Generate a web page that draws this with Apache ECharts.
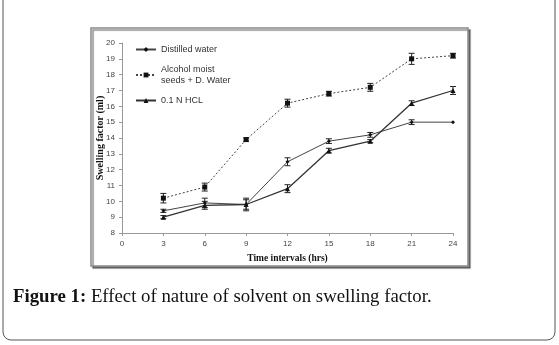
<!DOCTYPE html>
<html>
<head>
<meta charset="utf-8">
<script src="https://cdn.jsdelivr.net/npm/echarts@6/dist/echarts.min.js"></script>
<style>
  html, body { margin: 0; padding: 0; background: #fff; }
  #chart { width: 559px; height: 345px; }
</style>
</head>
<body>
<div id="chart"></div>
<script>
// time points (hrs)
var hours = [3, 6, 9, 12, 15, 18, 21, 24];
// swelling factor (ml)
var distilled = [9.4, 9.9, 9.8, 12.5, 13.8, 14.2, 15.0, 15.0];
var alcohol = [10.2, 10.9, 13.9, 16.2, 16.8, 17.2, 19.0, 19.2];
var hcl = [9.0, 9.75, 9.8, 10.8, 13.2, 13.8, 16.2, 17.0];
// +/- error
var distilledErr = [0.1, 0.3, 0.4, 0.25, 0.15, 0.15, 0.15, 0];
var alcoholErr = [0.3, 0.25, 0.1, 0.25, 0.15, 0.25, 0.35, 0.15];
var hclErr = [0.1, 0.25, 0.3, 0.25, 0.15, 0.1, 0.15, 0.25];

var xTicks = [0, 3, 6, 9, 12, 15, 18, 21, 24];
var yTicks = [8, 9, 10, 11, 12, 13, 14, 15, 16, 17, 18, 19, 20];

function pairs(vals) {
  return hours.map(function (h, i) { return [h, vals[i]]; });
}
function errData(vals, errs) {
  return hours.map(function (h, i) { return [h, vals[i] - errs[i], vals[i] + errs[i]]; });
}
function errSeries(vals, errs) {
  return {
    type: 'custom',
    silent: true,
    z: 1,
    data: errData(vals, errs),
    renderItem: function (params, api) {
      var lo = api.coord([api.value(0), api.value(1)]);
      var hi = api.coord([api.value(0), api.value(2)]);
      var st = { stroke: '#222', lineWidth: 1 };
      if (hi[1] === lo[1]) return null;
      return {
        type: 'group',
        children: [
          { type: 'line', shape: { x1: lo[0], y1: lo[1], x2: hi[0], y2: hi[1] }, style: st },
          { type: 'line', shape: { x1: lo[0] - 3, y1: lo[1], x2: lo[0] + 3, y2: lo[1] }, style: st },
          { type: 'line', shape: { x1: hi[0] - 3, y1: hi[1], x2: hi[0] + 3, y2: hi[1] }, style: st }
        ]
      };
    }
  };
}

var chart = echarts.init(document.getElementById('chart'));
chart.setOption({
  animation: false,
  textStyle: { fontFamily: 'Liberation Sans' },
  grid: { left: 122, right: 106, top: 43, bottom: 112, containLabel: false },
  graphic: [
    { type: 'rect', z: -10, shape: { x: 3, y: -12, width: 552, height: 352, r: 8 },
      style: { fill: '#fff', stroke: '#555', lineWidth: 1 } },
    { type: 'rect', z: -9, shape: { x: 91, y: 28, width: 377, height: 238 },
      style: { fill: '#fff', stroke: '#8a8a8a', lineWidth: 1.5,
        shadowColor: 'rgba(0,0,0,0.45)', shadowOffsetX: 2, shadowOffsetY: 2, shadowBlur: 1 } },
    { type: 'text', left: 13, top: 288,
      style: { text: '{b|Figure 1:} Effect of nature of solvent on swelling factor.',
        font: '18.8px "Liberation Serif"', fill: '#111',
        rich: { b: { fontWeight: 'bold', fontSize: 18.8, fontFamily: 'Liberation Serif', fill: '#111' } } } }
  ],
  legend: {
    orient: 'vertical',
    left: 130,
    top: 39,
    itemWidth: 20,
    itemHeight: 6,
    itemGap: 9,
    textStyle: { fontSize: 9, color: '#333', fontFamily: 'Liberation Sans', lineHeight: 11 },
    data: ['Distilled water', 'Alcohol moist\nseeds + D. Water', '0.1 N HCL']
  },
  xAxis: {
    type: 'value',
    min: 0, max: 24, interval: 3,
    name: 'Time intervals (hrs)',
    nameLocation: 'middle',
    nameGap: 21,
    nameMoveOverlap: false,
    nameTextStyle: { fontFamily: 'Liberation Serif', fontWeight: 'bold', fontSize: 9.5, color: '#111' },
    axisLine: { lineStyle: { color: '#999' } },
    axisTick: { lineStyle: { color: '#999' }, length: 3 },
    axisLabel: { fontSize: 8, color: '#444', margin: 7 },
    splitLine: { show: false }
  },
  yAxis: {
    type: 'value',
    min: 8, max: 20, interval: 1,
    name: 'Swelling factor (ml)',
    nameLocation: 'middle',
    nameGap: 17,
    nameMoveOverlap: false,
    nameTextStyle: { fontFamily: 'Liberation Serif', fontWeight: 'bold', fontSize: 10, color: '#111' },
    axisLine: { show: true, lineStyle: { color: '#999' } },
    axisTick: { show: true, lineStyle: { color: '#999' }, length: 3 },
    axisLabel: { fontSize: 8, color: '#444', margin: 7 },
    splitLine: { show: false }
  },
  series: [
    {
      name: 'Distilled water', type: 'line', data: pairs(distilled),
      symbol: 'diamond', symbolSize: 4, z: 3,
      lineStyle: { color: '#444', width: 1 }, itemStyle: { color: '#111' }
    },
    {
      name: 'Alcohol moist\nseeds + D. Water', type: 'line', data: pairs(alcohol),
      symbol: 'rect', symbolSize: 5, z: 3,
      lineStyle: { color: '#444', width: 1, type: [2, 2] }, itemStyle: { color: '#111' }
    },
    {
      name: '0.1 N HCL', type: 'line', data: pairs(hcl),
      symbol: 'triangle', symbolSize: 5, z: 3,
      lineStyle: { color: '#333', width: 1.3 }, itemStyle: { color: '#111' }
    },
    errSeries(distilled, distilledErr),
    errSeries(alcohol, alcoholErr),
    errSeries(hcl, hclErr)
  ]
});
</script>
</body>
</html>
